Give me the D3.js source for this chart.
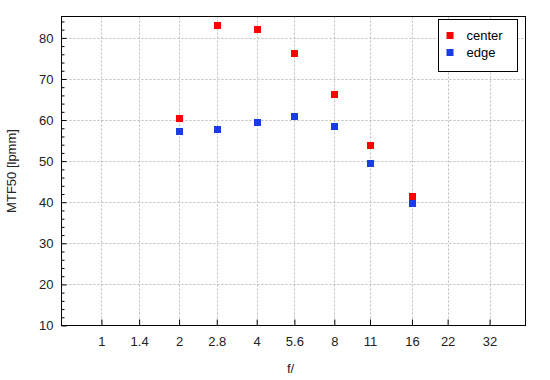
<!DOCTYPE html>
<html>
<head>
    <script src="https://d3js.org/d3.v7.min.js"></script>
    <style type="text/css">
        html, body { margin: 0; padding: 0; background: #fff; }
        svg { display: block; font-family: "Liberation Sans", Arial, sans-serif; }
    </style>
</head>
<body>
    <svg id="main"></svg>
    <script>
      // data
      const apertures   = [2, 2.8, 4, 5.6, 8, 11, 16];
      const centerVals  = [60.5, 83.2, 82.2, 76.4, 66.4, 54.0, 41.6];
      const edgeVals    = [57.4, 57.9, 59.6, 61.0, 58.6, 49.6, 39.7];
      const xTicks      = [1, 1.4, 2, 2.8, 4, 5.6, 8, 11, 16, 22, 32];
      const yTicks      = [10, 20, 30, 40, 50, 60, 70, 80];
      const series      = [
        {name: "center", values: centerVals, color: "#ff0000"},
        {name: "edge",   values: edgeVals,   color: "#1a3ce6"}
      ];

      // settings
      const width  = 550;
      const height = 380;
      const FS = 13;
      const M = {left: 61.5, right: 525.5, top: 16.5, bottom: 325.5};

      const svg = d3.select("#main")
        .attr("width", width)
        .attr("height", height);

      const x = d3.scaleLog().domain([0.7, 44.1]).range([M.left, M.right]);
      const y = d3.scaleLinear().domain([10, 85.2]).range([M.bottom, M.top]);

      // grid
      const grid = svg.append("g")
        .attr("stroke", "#bbb")
        .attr("stroke-dasharray", "2,2");
      grid.selectAll(".vx").data(xTicks).enter().append("line")
        .attr("x1", d => Math.round(x(d)) + 0.5).attr("x2", d => Math.round(x(d)) + 0.5)
        .attr("y1", M.top).attr("y2", M.bottom);
      grid.selectAll(".hy").data(yTicks.slice(1)).enter().append("line")
        .attr("y1", d => Math.round(y(d)) + 0.5).attr("y2", d => Math.round(y(d)) + 0.5)
        .attr("x1", M.left).attr("x2", M.right);

      // frame
      svg.append("rect")
        .attr("x", M.left).attr("y", M.top)
        .attr("width", M.right - M.left).attr("height", M.bottom - M.top)
        .attr("fill", "none").attr("stroke", "#000").attr("stroke-width", 1);

      // y axis, ticks pointing inward
      const yAxis = d3.axisLeft(y)
        .tickValues(d3.range(10, 85, 2))
        .tickSize(-3)
        .tickFormat(d => yTicks.includes(d) ? d : "");
      const gy = svg.append("g").attr("transform", `translate(${M.left},0)`).call(yAxis);
      gy.select(".domain").remove();
      gy.selectAll(".tick line").attr("stroke", "#000")
        .attr("x2", d => yTicks.includes(d) ? 5 : 3);
      gy.selectAll(".tick text").attr("x", -8).attr("font-size", FS).attr("fill", "#222");

      // x axis, ticks pointing inward
      const xAxis = d3.axisBottom(x).tickValues(xTicks).tickSize(-6).tickFormat(d => d);
      const gx = svg.append("g").attr("transform", `translate(0,${M.bottom})`).call(xAxis);
      gx.select(".domain").remove();
      gx.selectAll(".tick line").attr("stroke", "#000");
      gx.selectAll(".tick text").attr("y", 11).attr("font-size", FS).attr("fill", "#222");

      // axis titles
      svg.append("text").attr("x", (M.left + M.right) / 2 - 3).attr("y", 373)
        .attr("text-anchor", "middle").attr("font-size", FS).attr("fill", "#222").text("f/");
      svg.append("text")
        .attr("transform", `translate(16,${(M.top + M.bottom) / 2}) rotate(-90)`)
        .attr("text-anchor", "middle").attr("font-size", FS).attr("fill", "#222").text("MTF50 [lpmm]");

      // points
      series.forEach(s => {
        svg.append("g").selectAll("rect").data(s.values).enter().append("rect")
          .attr("x", (d, i) => Math.round(x(apertures[i])) - 3)
          .attr("y", d => Math.round(y(d)) - 3)
          .attr("width", 7).attr("height", 7)
          .attr("fill", s.color);
      });

      // legend
      const lg = svg.append("g").attr("transform", "translate(438.5,19.5)");
      lg.append("rect").attr("width", 79).attr("height", 52)
        .attr("fill", "#fff").attr("stroke", "#000");
      lg.selectAll("g").data(series).enter().append("g")
        .attr("transform", (d, i) => `translate(0,${16 + i * 17})`)
        .each(function (d) {
          const g = d3.select(this);
          g.append("rect").attr("x", 8).attr("y", -3.5).attr("width", 7).attr("height", 7).attr("fill", d.color);
          g.append("text").attr("x", 28).attr("y", 4.5).attr("font-size", FS).attr("fill", "#000").text(d.name);
        });
    </script>
</body>
</html>
